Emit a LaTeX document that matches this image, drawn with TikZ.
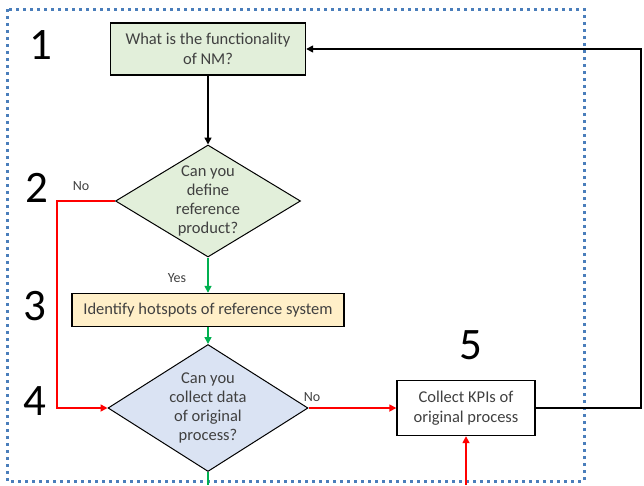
\documentclass[tikz,border=0pt]{standalone}
\usepackage{fontspec}
\setmainfont{Carlito}
\usetikzlibrary{shapes.geometric,arrows.meta}

\definecolor{frameblue}{RGB}{74,126,187}
\definecolor{qgreen}{RGB}{226,239,218}
\definecolor{qorange}{RGB}{255,239,200}
\definecolor{qblue}{RGB}{218,227,243}
\definecolor{yesgreen}{RGB}{0,176,80}
\definecolor{txtgray}{RGB}{64,64,64}

\tikzset{
    box/.style={draw=black, line width=1.4pt, text=txtgray, align=center, inner sep=0pt,
        font=\fontsize{16.5}{20}\selectfont},
    ask/.style={diamond, draw=black, line width=1pt, inner sep=0pt},
    asktext/.style={text=txtgray, align=center, inner sep=0pt,
        font=\fontsize{16.5}{19}\selectfont},
    stepnum/.style={font=\fontsize{45}{45}\selectfont, text=black},
    answer/.style={font=\fontsize{14}{16}\selectfont, text=txtgray},
    flow/.style={line width=1.6pt, -{Triangle[length=7pt,width=7pt]}},
}

\begin{document}
\begin{tikzpicture}[x=1pt, y=-1pt]
    \useasboundingbox (0,0) rectangle (644,485);
    \def\mx{208}

    % frame
    \draw[frameblue, line width=3pt, dash pattern=on 3pt off 4pt] (7,9) rectangle (584,481);

    % steps
    \node[box, fill=qgreen, minimum width=195, minimum height=52] (func) at (\mx,49)
        {What is the functionality\\of NM?};
    \node[ask, fill=qgreen, minimum width=185, minimum height=112,
        label={[asktext]center:Can you\\define\\reference\\product?}] (refprod) at (\mx,201) {};
    \node[box, fill=qorange, minimum width=272, minimum height=33] (hotspots) at (\mx,310)
        {Identify hotspots of reference system};
    \node[ask, fill=qblue, minimum width=200, minimum height=127,
        label={[asktext]center:Can you\\collect data\\of original\\process?}] (data) at (\mx,408) {};
    \node[box, fill=white, minimum width=138, minimum height=55] (kpis) at (466,408)
        {Collect KPIs of\\original process};

    % step numbers
    \node[stepnum] (n1) at (41,45) {1};
    \node[stepnum] (n2) at (37,188) {2};
    \node[stepnum] (n3) at (35,306) {3};
    \node[stepnum] (n4) at (35,401) {4};
    \node[stepnum] (n5) at (471,345) {5};

    \coordinate (redin) at (466,485);
    \coordinate (greenout) at (\mx,485);

    % connectors
    \draw[flow, red] (refprod.west) -- (57,201) |- (data.west);
    \node[answer] (no1) at (81,186) {No};
    \draw[flow] (func) -- (refprod);
    \draw[flow, yesgreen] (refprod) -- (hotspots);
    \node[answer] (yes1) at (177,278) {Yes};
    \draw[flow, yesgreen] (hotspots) -- (data);
    \draw[flow, red] (data.east) -- (kpis.west);
    \node[answer] (no2) at (312,397) {No};
    \draw[flow] (kpis.east) -- (641,408) |- (func.east);
    \draw[flow, red] (redin) -- (kpis);
    \draw[line width=1.6pt, yesgreen] (data) -- (greenout);
\end{tikzpicture}
\end{document}
